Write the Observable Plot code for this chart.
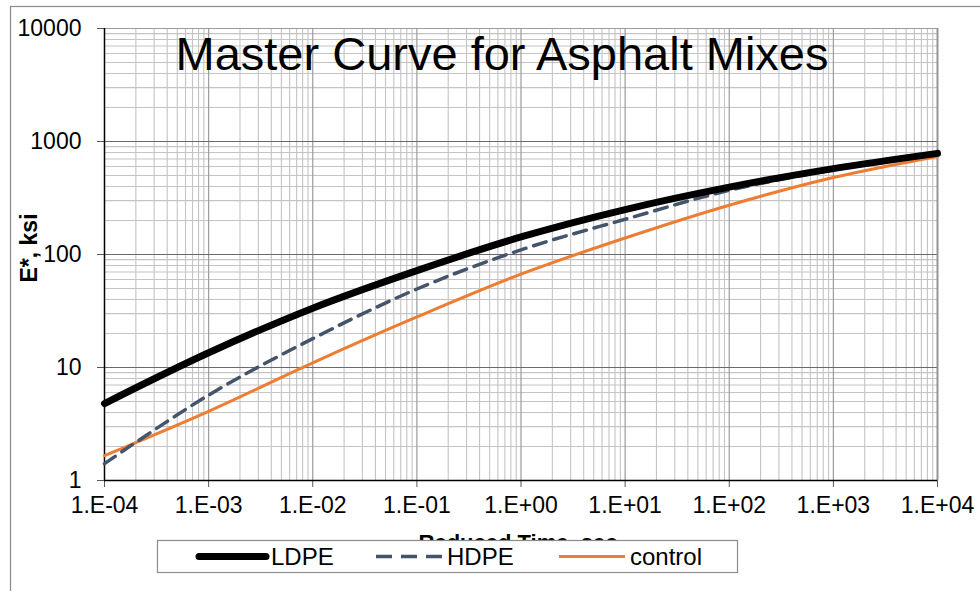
<!DOCTYPE html>
<html>
<head>
<meta charset="utf-8">
<script src="https://cdn.jsdelivr.net/npm/d3@7"></script>
<script src="https://cdn.jsdelivr.net/npm/@observablehq/plot@0.6"></script>
<style>
  body { margin: 0; background: #fff; }
  #chart { position: relative; width: 980px; height: 591px; overflow: hidden; }
</style>
</head>
<body>
<div id="chart"></div>
<script>
// Reduced time (sec) at each decade, and dynamic modulus |E*| (ksi) per mix
const times = [1e-4, 1e-3, 1e-2, 1e-1, 1, 10, 100, 1000, 10000];
const ldpe = [4.8, 13.5, 33.5, 72, 143, 250, 395, 575, 785];
const hdpe = [1.41, 5.7, 18, 49.5, 110, 205, 370, 560, 775];
const control = [1.66, 4.1, 11, 28, 67, 140, 273, 480, 738];

const seriesNames = ["LDPE", "HDPE", "control"];
const xTickLabels = ["1.E-04", "1.E-03", "1.E-02", "1.E-01", "1.E+00", "1.E+01", "1.E+02", "1.E+03", "1.E+04"];
const yTicks = [1, 10, 100, 1000, 10000];
const yTickLabels = ["1", "10", "100", "1000", "10000"];

const title = "Master Curve for Asphalt Mixes";
const xTitle = "Reduced Time, sec";
const yTitle = "E*, ksi";

const FONT = "'Liberation Sans', Arial, sans-serif";

const rows = (name, values) => times.map((t, i) => ({series: name, t, e: values[i]}));
const data = [...rows("LDPE", ldpe), ...rows("HDPE", hdpe), ...rows("control", control)];

// Log grid: minor lines at 2..9 within every decade
const minorX = times.slice(0, -1).flatMap(d => d3.range(2, 10).map(k => d * k));
const minorY = yTicks.slice(0, -1).flatMap(d => d3.range(2, 10).map(k => d * k));

const styles = {
  LDPE: {stroke: "#000000", strokeWidth: 7, dash: null},
  HDPE: {stroke: "#44546A", strokeWidth: 3.5, dash: "13,8"},
  control: {stroke: "#ED7D31", strokeWidth: 3, dash: null}
};

const lineFor = name => Plot.line(data.filter(d => d.series === name), {
  x: "t", y: "e", curve: "catmull-rom",
  stroke: styles[name].stroke, strokeWidth: styles[name].strokeWidth,
  strokeDasharray: styles[name].dash
});

const chart = Plot.plot({
  width: 980,
  height: 591,
  marginLeft: 104,
  marginRight: 43,
  marginTop: 28,
  marginBottom: 111,
  style: {fontFamily: FONT, background: "#fff", overflow: "visible"},
  x: {type: "log", domain: [1e-4, 1e4]},
  y: {type: "log", domain: [1, 10000]},
  marks: [
    Plot.ruleX(minorX, {stroke: "#c4c4c4", strokeWidth: 1.1}),
    Plot.ruleY(minorY, {stroke: "#c4c4c4", strokeWidth: 1.1}),
    Plot.ruleX(times.slice(1, -1), {stroke: "#9c9c9c", strokeWidth: 1.2}),
    Plot.ruleY(yTicks.slice(1, -1), {stroke: "#6a6a6a", strokeWidth: 1.2}),
    Plot.ruleY([10000], {stroke: "#9c9c9c", strokeWidth: 1.2}),
    Plot.ruleX([10000], {stroke: "#959595", strokeWidth: 2}),
    Plot.axisX({
      ticks: times, tickFormat: d => xTickLabels[times.indexOf(d)],
      tickSize: 7, tickPadding: 9, fontSize: 23, stroke: "#595959",
      color: "#000", label: null
    }),
    Plot.axisY({
      ticks: yTicks, tickFormat: d => yTickLabels[yTicks.indexOf(d)],
      tickSize: 7, tickPadding: 16, fontSize: 23, stroke: "#595959",
      color: "#000", label: null
    }),
    Plot.ruleX([1e-4], {stroke: "#000", strokeWidth: 1.5}),
    Plot.ruleY([1], {stroke: "#000", strokeWidth: 1.5}),
    lineFor("control"),
    lineFor("HDPE"),
    lineFor("LDPE"),
    Plot.text([title], {
      frameAnchor: "top", dx: -19, dy: 26, fontSize: 47, fill: "#000",
      lineAnchor: "middle", fontFamily: FONT
    }),
    Plot.text([yTitle], {
      frameAnchor: "left", dx: -75, dy: 28, rotate: -90, fontSize: 23,
      fontWeight: "bold", fill: "#000", fontFamily: FONT
    }),
    Plot.text([xTitle], {
      frameAnchor: "bottom", dx: -3, dy: 69, fontSize: 22,
      fontWeight: "bold", fill: "#000", fontFamily: FONT
    })
  ]
});

const svg = d3.select(chart);

// Outer chart border
svg.insert("rect", ":first-child")
  .attr("x", 10.5).attr("y", 6.5).attr("width", 1000).attr("height", 700)
  .attr("fill", "none").attr("stroke", "#8c8c8c").attr("stroke-width", 1.2);

// Legend box below the plot (it sits over the lower part of the x-axis title)
const legend = svg.append("g")
  .attr("font-family", FONT).attr("font-size", 24).attr("text-anchor", "start");
legend.append("rect")
  .attr("x", 157.5).attr("y", 540.5).attr("width", 580).attr("height", 32)
  .attr("fill", "#fff").attr("stroke", "#8c8c8c").attr("stroke-width", 1.2);

const legendItems = [
  {name: seriesNames[0], x1: 199, x2: 266, tx: 271},
  {name: seriesNames[1], x1: 376, x2: 444, tx: 447},
  {name: seriesNames[2], x1: 559, x2: 625, tx: 630}
];
legendItems.forEach(item => {
  const s = styles[item.name];
  legend.append("line")
    .attr("x1", item.x1).attr("x2", item.x2).attr("y1", 556.5).attr("y2", 556.5)
    .attr("stroke", s.stroke).attr("stroke-width", s.strokeWidth)
    .attr("stroke-linecap", item.name === "LDPE" ? "round" : "butt")
    .attr("stroke-dasharray", s.dash ? "16,9" : null);
  legend.append("text")
    .attr("x", item.tx).attr("y", 565).attr("fill", "#000")
    .attr("text-anchor", "start")
    .text(item.name);
});

document.getElementById("chart").appendChild(chart);
</script>
</body>
</html>
